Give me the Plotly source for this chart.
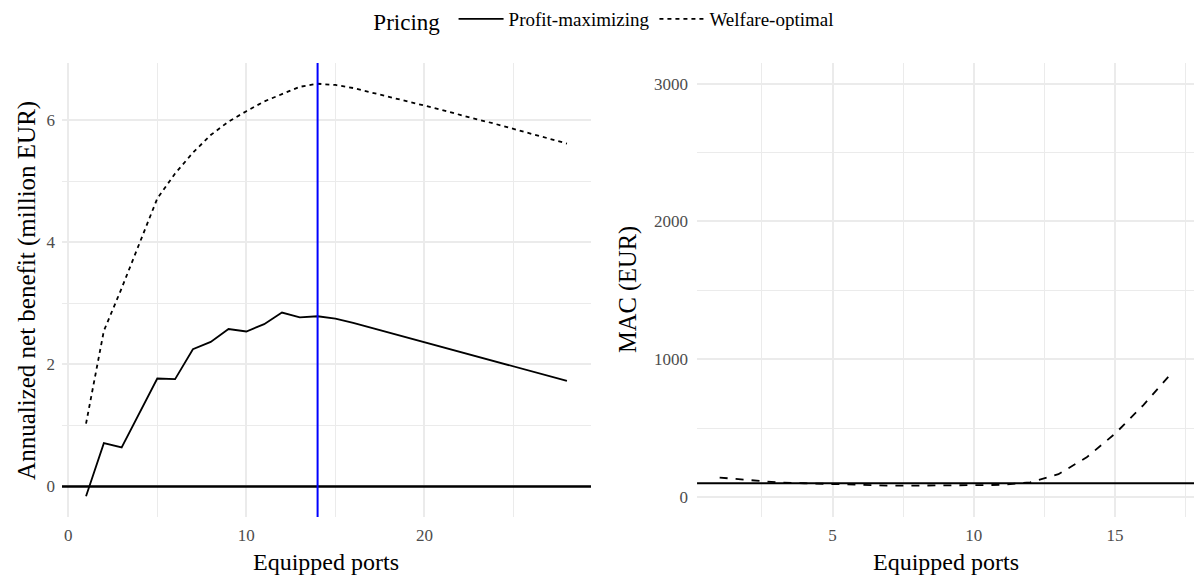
import plotly.graph_objects as go

# ---------------- data ----------------
ports_nb = [1, 2, 3, 4, 5, 6, 7, 8, 9, 10, 11, 12, 13, 14, 15, 16, 17, 18, 19, 20,
            21, 22, 23, 24, 25, 26, 27, 28]
profit_nb = [-0.16, 0.71, 0.64, 1.21, 1.77, 1.76, 2.25, 2.37, 2.58, 2.54, 2.66, 2.85,
             2.77, 2.79, 2.75, 2.68, 2.60, 2.52, 2.44, 2.36, 2.28, 2.20, 2.12, 2.04,
             1.96, 1.88, 1.80, 1.73]
welfare_nb = [1.03, 2.55, 3.25, 4.00, 4.72, 5.13, 5.47, 5.76, 5.98, 6.15, 6.31, 6.43,
              6.55, 6.60, 6.58, 6.53, 6.46, 6.39, 6.32, 6.24, 6.17, 6.09, 6.02, 5.94,
              5.86, 5.78, 5.70, 5.62]

ports_mac = [1, 2, 3, 4, 5, 6, 7, 8, 9, 10, 11, 12, 13, 14, 15, 16, 17]
welfare_mac = [141, 122, 107, 100, 93, 88, 83, 83, 83, 83, 88, 107, 166, 288, 459, 666, 898]

zero_line = 0
mac_reference = 100
optimal_ports = 14

FONT = "Liberation Serif"
GRID = "#EBEBEB"
TICK = "#4D4D4D"

fig = go.Figure()

fig.add_trace(go.Scatter(x=ports_nb, y=profit_nb, mode="lines", name="Profit-maximizing",
                         line=dict(color="black", width=1.8), xaxis="x", yaxis="y",
                         legendgroup="p"))
fig.add_trace(go.Scatter(x=ports_nb, y=welfare_nb, mode="lines", name="Welfare-optimal",
                         line=dict(color="black", width=1.8, dash="4px,4px"), xaxis="x", yaxis="y",
                         legendgroup="w"))
fig.add_trace(go.Scatter(x=ports_mac, y=welfare_mac, mode="lines", name="Welfare-optimal",
                         line=dict(color="black", width=1.8, dash="8px,8px"), xaxis="x2", yaxis="y2",
                         legendgroup="w", showlegend=False))

# reference lines
fig.add_shape(type="line", xref="x domain", yref="y", x0=0, x1=1, y0=zero_line, y1=zero_line,
              line=dict(color="black", width=2.5))
fig.add_shape(type="line", xref="x", yref="y domain", x0=optimal_ports, x1=optimal_ports, y0=0, y1=1,
              line=dict(color="#0000FF", width=2))
fig.add_shape(type="line", xref="x2 domain", yref="y2", x0=0, x1=1, y0=mac_reference, y1=mac_reference,
              line=dict(color="black", width=1.8))

axis_common = dict(showline=False, zeroline=False, ticks="", gridcolor=GRID, gridwidth=1.6,
                   tickfont=dict(family=FONT, size=17, color=TICK))

fig.update_layout(
    width=1194, height=577,
    margin=dict(l=62, r=0, t=63, b=60, autoexpand=False),
    paper_bgcolor="white", plot_bgcolor="white",
    font=dict(family=FONT, color="black"),
    xaxis=dict(domain=[0, 0.4673], range=[-0.35, 29.35], tick0=0, dtick=10, ticklabelstandoff=6,
               minor=dict(showgrid=True, gridcolor=GRID, gridwidth=0.8, dtick=5, tick0=0),
               **axis_common),
    yaxis=dict(range=[-0.5, 6.94], tick0=0, dtick=2, ticklabelstandoff=6,
               minor=dict(showgrid=True, gridcolor=GRID, gridwidth=0.8, dtick=1, tick0=0),
               **axis_common),
    xaxis2=dict(domain=[0.561, 1], range=[0.2, 17.8], tick0=0, dtick=5, anchor="y2", ticklabelstandoff=6,
                minor=dict(showgrid=True, gridcolor=GRID, gridwidth=0.8, dtick=2.5, tick0=0),
                **axis_common),
    yaxis2=dict(range=[-145, 3150], tick0=0, dtick=1000, anchor="x2", ticklabelstandoff=8,
                minor=dict(showgrid=True, gridcolor=GRID, gridwidth=0.8, dtick=500, tick0=0),
                **axis_common),
    legend=dict(orientation="h", xref="container", x=0.507, xanchor="center",
                yref="container", y=1.0, yanchor="top", itemwidth=45,
                title=dict(text="Pricing ", font=dict(family=FONT, size=23), side="left"),
                font=dict(family=FONT, size=19), bgcolor="rgba(0,0,0,0)"),
    showlegend=True,
)

ann = dict(showarrow=False)
fig.add_annotation(text="Equipped ports", xref="x domain", x=0.5, yref="paper", y=-0.099,
                   xanchor="center", yanchor="middle", font=dict(family=FONT, size=24, color="black"), **ann)
fig.add_annotation(text="Equipped ports", xref="x2 domain", x=0.5, yref="paper", y=-0.099,
                   xanchor="center", yanchor="middle", font=dict(family=FONT, size=24, color="black"), **ann)
fig.add_annotation(text="Annualized net benefit (million EUR)", xref="paper", x=-0.031,
                   yref="y domain", y=0.5, textangle=-90, xanchor="center", yanchor="middle",
                   font=dict(family=FONT, size=25, color="black"), **ann)
fig.add_annotation(text="MAC (EUR)", xref="paper", x=(628 - 62) / 1132,
                   yref="y2 domain", y=0.5, textangle=-90, xanchor="center", yanchor="middle",
                   font=dict(family=FONT, size=24.5, color="black"), **ann)

fig.write_html("out.html", config={"displayModeBar": False},
               post_script="document.body.style.margin='0';document.body.style.overflow='hidden';")
